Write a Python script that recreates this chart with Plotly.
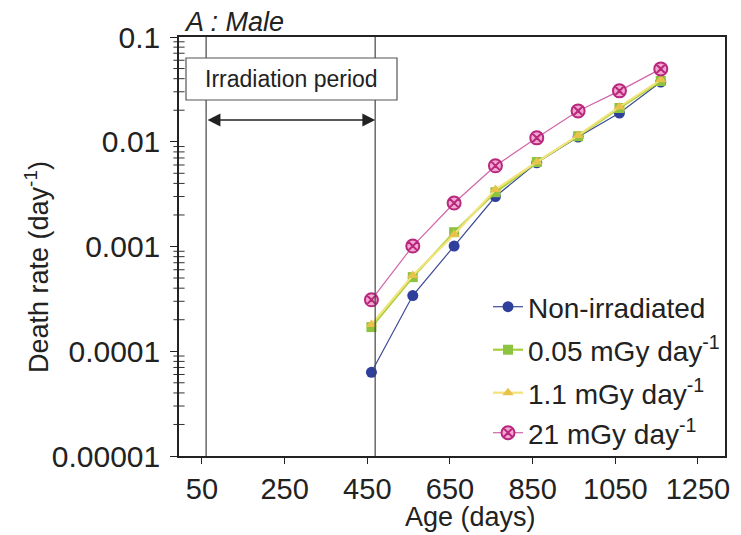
import plotly.graph_objects as go

# Age at each observation (days)
age_days = [460, 560, 660, 760, 860, 960, 1060, 1160]

# Death rate (day^-1) per dose group
rate_non_irradiated = [6.3e-5, 3.4e-4, 1.01e-3, 3.0e-3, 6.3e-3, 0.0111, 0.0188, 0.0372]
rate_0_05 = [1.7e-4, 5.1e-4, 1.37e-3, 3.3e-3, 6.4e-3, 0.0113, 0.0210, 0.0380]
rate_1_1 = [1.8e-4, 5.3e-4, 1.30e-3, 3.5e-3, 6.4e-3, 0.0115, 0.0215, 0.0390]
rate_21 = [3.1e-4, 1.01e-3, 2.6e-3, 5.9e-3, 0.0109, 0.0197, 0.0306, 0.0496]

series_names = ["Non-irradiated", "0.05 mGy day<sup>-1</sup>",
                "1.1 mGy day<sup>-1</sup>", "21 mGy day<sup>-1</sup>"]

x_tick_vals = [50, 250, 450, 650, 850, 1050, 1250]
y_tick_vals = [1e-5, 1e-4, 1e-3, 1e-2, 1e-1]
y_tick_text = ["0.00001", "0.0001", "0.001", "0.01", "0.1"]

# Irradiation period (days)
irradiation_start = 60
irradiation_end = 469

FONT = "Liberation Sans, Arial, sans-serif"
INK = "#222222"

# Plot-area geometry in pixels, used to convert label placements to paper fractions
L, R, T, B = 179, 725, 37, 456
def px(xp):
    return (xp - L) / (R - L)
def py(yp):
    return 1 - (yp - T) / (B - T)

# Minor log ticks: 2..9 within each decade
minor_tick_vals = [m * d for d in y_tick_vals[:-1] for m in range(2, 10)]

fig = go.Figure()

# Minor ticks drawn as short horizontal dashes sitting on the left axis line
fig.add_trace(go.Scatter(x=[0] * len(minor_tick_vals), y=minor_tick_vals,
                         xaxis="x2", yaxis="y", mode="markers", cliponaxis=False,
                         marker=dict(symbol="line-ew", size=8,
                                     line=dict(color="#333333", width=1)),
                         showlegend=False, hoverinfo="skip"))

styles = [
    dict(line=dict(color="#3d4a94", width=1.2),
         marker=dict(symbol="circle", size=11, color="#2e3f9c", line=dict(width=0))),
    dict(line=dict(color="#a6cf3a", width=2.2),
         marker=dict(symbol="square", size=10, color="#8cc440", line=dict(width=0))),
    dict(line=dict(color="#f2e27a", width=2.2),
         marker=dict(symbol="triangle-up", size=10, color="#e8c24a", line=dict(width=0))),
    dict(line=dict(color="#d265a8", width=1.2),
         marker=dict(symbol="circle-x", size=13, color="#f3a8cf",
                     line=dict(color="#b8287e", width=2))),
]

# One legend per series so the rows can be spaced freely
legend_ids = ["legend", "legend2", "legend3", "legend4"]
legend_rows = [307, 350, 393, 433]

for name, values, st, lid in zip(series_names,
                                 [rate_non_irradiated, rate_0_05, rate_1_1, rate_21],
                                 styles, legend_ids):
    fig.add_trace(go.Scatter(x=age_days, y=values, mode="lines+markers",
                             name=name, line=st["line"], marker=st["marker"],
                             legend=lid))

legend_layout = {}
for lid, row in zip(legend_ids, legend_rows):
    legend_layout[lid] = dict(x=px(488), y=py(row), xanchor="left", yanchor="middle",
                              bgcolor="rgba(0,0,0,0)", borderwidth=0,
                              font=dict(family=FONT, size=28, color=INK))

# Vertical lines marking the irradiation period
for xv in (irradiation_start, irradiation_end):
    fig.add_shape(type="line", xref="x", yref="paper", x0=xv, x1=xv, y0=0, y1=1,
                  line=dict(color="#444444", width=1.2))

# Label box for the irradiation period
fig.add_shape(type="rect", xref="paper", yref="paper",
              x0=px(186), x1=px(397), y0=py(100), y1=py(58),
              line=dict(color="#555555", width=1.2), fillcolor="white")
fig.add_annotation(text="Irradiation period", xref="paper", yref="paper",
                   x=px(291.5), y=py(79), xanchor="center", yanchor="middle",
                   showarrow=False, font=dict(family=FONT, size=23, color=INK))

# Double-headed arrow spanning the irradiation period
fig.add_annotation(x=irradiation_end, y=py(120), xref="x", yref="paper",
                   ax=irradiation_start, ay=0, axref="x", ayref="pixel",
                   text="", showarrow=True, arrowside="end+start",
                   arrowhead=2, arrowsize=1.6, arrowwidth=1.6, arrowcolor=INK,
                   standoff=0, startstandoff=0)

# Panel label
fig.add_annotation(text="A : Male", xref="paper", yref="paper", x=px(182), y=py(22),
                   xanchor="left", yanchor="middle", showarrow=False,
                   font=dict(family=FONT, size=27, color=INK, style="italic"))

# Axis titles
fig.add_annotation(text="Age (days)", xref="paper", yref="paper",
                   x=px(470), y=py(517), xanchor="center", yanchor="middle",
                   showarrow=False, font=dict(family=FONT, size=27, color=INK))
fig.add_annotation(text="Death rate (day<sup>-1</sup>)", xref="paper", yref="paper",
                   x=px(37), y=py(267), xanchor="center", yanchor="middle",
                   textangle=-90, showarrow=False,
                   font=dict(family=FONT, size=27, color=INK))

fig.update_layout(
    width=741, height=535,
    margin=dict(l=L, r=741 - R, t=T, b=535 - B),
    paper_bgcolor="white", plot_bgcolor="white",
    showlegend=True,
    xaxis=dict(range=[-5.6, 1315.4], tickvals=x_tick_vals,
               ticks="outside", ticklen=6, tickwidth=1.2, tickcolor=INK,
               showline=True, linecolor=INK, linewidth=1.5, mirror=True,
               showgrid=False, zeroline=False,
               tickfont=dict(family=FONT, size=29, color=INK)),
    # Hidden unit axis whose 0 sits on the left edge of the plot area
    xaxis2=dict(range=[0, 1], overlaying="x", visible=False, fixedrange=True),
    yaxis=dict(type="log", range=[-5, -1], tickvals=y_tick_vals, ticktext=y_tick_text,
               ticks="outside", ticklen=7, tickwidth=1.2, tickcolor=INK,
               showline=True, linecolor=INK, linewidth=1.5, mirror=True,
               showgrid=False, zeroline=False, ticklabelstandoff=4,
               tickfont=dict(family=FONT, size=30, color=INK)),
    **legend_layout,
)

fig.write_html("out.html")
